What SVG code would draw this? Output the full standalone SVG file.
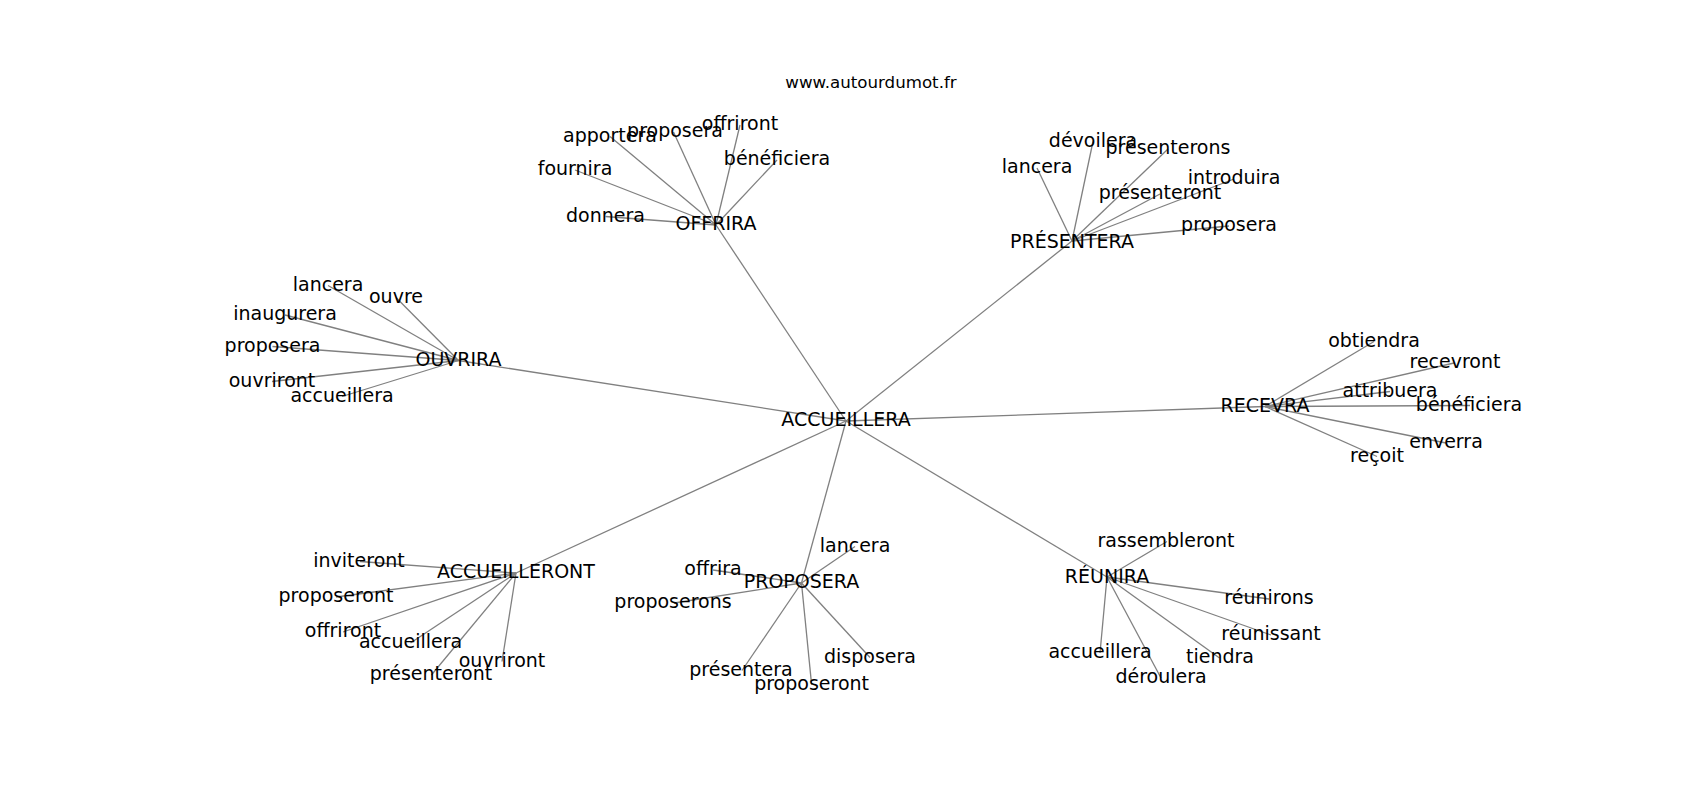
<svg xmlns="http://www.w3.org/2000/svg" width="1700" height="800" viewBox="0 0 1700 800">
<style>
.lbl{font-family:"DejaVu Sans","Liberation Sans",sans-serif;font-size:19px;text-anchor:middle;fill:#000}
.title{font-family:"DejaVu Sans","Liberation Sans",sans-serif;font-size:16.67px;text-anchor:middle;fill:#000}
.edges line{stroke:#808080;stroke-width:1.3;fill:none}
</style>
<rect x="0" y="0" width="1700" height="800" fill="#fff"/>
<text class="title" x="871" y="87.7">www.autourdumot.fr</text>
<g class="edges" id="connectors">
<line x1="846" y1="421" x2="716" y2="225"/>
<line x1="846" y1="421" x2="1072" y2="241"/>
<line x1="846" y1="421" x2="458.5" y2="360.5"/>
<line x1="846" y1="421" x2="1265" y2="406.5"/>
<line x1="846" y1="421" x2="516" y2="573"/>
<line x1="846" y1="421" x2="801.5" y2="583"/>
<line x1="846" y1="421" x2="1107" y2="577"/>
<line x1="716" y1="225" x2="610" y2="136.5"/>
<line x1="716" y1="225" x2="673.5" y2="132"/>
<line x1="716" y1="225" x2="740" y2="125"/>
<line x1="716" y1="225" x2="777" y2="160"/>
<line x1="716" y1="225" x2="575" y2="170"/>
<line x1="716" y1="225" x2="605.5" y2="216.5"/>
<line x1="1072" y1="241" x2="1037" y2="168"/>
<line x1="1072" y1="241" x2="1093" y2="141.5"/>
<line x1="1072" y1="241" x2="1168" y2="149"/>
<line x1="1072" y1="241" x2="1234" y2="179"/>
<line x1="1072" y1="241" x2="1160" y2="194"/>
<line x1="1072" y1="241" x2="1229" y2="226"/>
<line x1="458.5" y1="360.5" x2="328" y2="285.5"/>
<line x1="458.5" y1="360.5" x2="396" y2="297.5"/>
<line x1="458.5" y1="360.5" x2="285" y2="315"/>
<line x1="458.5" y1="360.5" x2="272.5" y2="346.5"/>
<line x1="458.5" y1="360.5" x2="272" y2="381.5"/>
<line x1="458.5" y1="360.5" x2="342" y2="396.5"/>
<line x1="1265" y1="406.5" x2="1374" y2="341.5"/>
<line x1="1265" y1="406.5" x2="1454" y2="363"/>
<line x1="1265" y1="406.5" x2="1390" y2="391.5"/>
<line x1="1265" y1="406.5" x2="1470" y2="405.5"/>
<line x1="1265" y1="406.5" x2="1446" y2="443"/>
<line x1="1265" y1="406.5" x2="1377" y2="456.5"/>
<line x1="516" y1="573" x2="360" y2="561.5"/>
<line x1="516" y1="573" x2="336" y2="597"/>
<line x1="516" y1="573" x2="343" y2="632"/>
<line x1="516" y1="573" x2="410.5" y2="643"/>
<line x1="516" y1="573" x2="431.4" y2="675"/>
<line x1="516" y1="573" x2="502" y2="661.5"/>
<line x1="801.5" y1="583" x2="855" y2="546.5"/>
<line x1="801.5" y1="583" x2="713" y2="570"/>
<line x1="801.5" y1="583" x2="674" y2="603"/>
<line x1="801.5" y1="583" x2="742" y2="670.5"/>
<line x1="801.5" y1="583" x2="811.6" y2="684.6"/>
<line x1="801.5" y1="583" x2="870" y2="657.5"/>
<line x1="1107" y1="577" x2="1167" y2="541.5"/>
<line x1="1107" y1="577" x2="1269" y2="599"/>
<line x1="1107" y1="577" x2="1271" y2="635"/>
<line x1="1107" y1="577" x2="1219.5" y2="658"/>
<line x1="1107" y1="577" x2="1100" y2="653"/>
<line x1="1107" y1="577" x2="1161" y2="678"/>
</g>
<g id="n-accueillera-hub"><text class="lbl" x="846" y="426">ACCUEILLERA</text></g>
<g id="n-offrira"><text class="lbl" x="716" y="230">OFFRIRA</text></g>
<g id="n-presentera"><text class="lbl" x="1072" y="247.7">PRÉSENTERA</text></g>
<g id="n-ouvrira"><text class="lbl" x="458.5" y="365.7">OUVRIRA</text></g>
<g id="n-recevra"><text class="lbl" x="1265" y="411.7">RECEVRA</text></g>
<g id="n-accueilleront"><text class="lbl" x="516" y="578.3">ACCUEILLERONT</text></g>
<g id="n-proposera"><text class="lbl" x="801.5" y="588.3">PROPOSERA</text></g>
<g id="n-reunira"><text class="lbl" x="1107" y="583.3">RÉUNIRA</text></g>

<g id="n-of-apportera"><text class="lbl" x="610" y="141.7">apportera</text></g>
<g id="n-of-proposera"><text class="lbl" x="675" y="137.3">proposera</text></g>
<g id="n-of-offriront"><text class="lbl" x="740" y="130.2">offriront</text></g>
<g id="n-of-beneficiera"><text class="lbl" x="777" y="165.2">bénéficiera</text></g>
<g id="n-of-fournira"><text class="lbl" x="575" y="175.2">fournira</text></g>
<g id="n-of-donnera"><text class="lbl" x="605.5" y="221.7">donnera</text></g>

<g id="n-pr-lancera"><text class="lbl" x="1037" y="173.3">lancera</text></g>
<g id="n-pr-devoilera"><text class="lbl" x="1093" y="146.7">dévoilera</text></g>
<g id="n-pr-presenterons"><text class="lbl" x="1168" y="154.3">présenterons</text></g>
<g id="n-pr-introduira"><text class="lbl" x="1234" y="184.2">introduira</text></g>
<g id="n-pr-presenteront"><text class="lbl" x="1160" y="199">présenteront</text></g>
<g id="n-pr-proposera"><text class="lbl" x="1229" y="231.2">proposera</text></g>

<g id="n-ou-lancera"><text class="lbl" x="328" y="290.7">lancera</text></g>
<g id="n-ou-ouvre"><text class="lbl" x="396" y="302.7">ouvre</text></g>
<g id="n-ou-inaugurera"><text class="lbl" x="285" y="320.2">inaugurera</text></g>
<g id="n-ou-proposera"><text class="lbl" x="272.5" y="351.7">proposera</text></g>
<g id="n-ou-ouvriront"><text class="lbl" x="272" y="386.7">ouvriront</text></g>
<g id="n-ou-accueillera"><text class="lbl" x="342" y="401.7">accueillera</text></g>

<g id="n-re-obtiendra"><text class="lbl" x="1374" y="346.7">obtiendra</text></g>
<g id="n-re-recevront"><text class="lbl" x="1455" y="368.2">recevront</text></g>
<g id="n-re-attribuera"><text class="lbl" x="1390" y="396.7">attribuera</text></g>
<g id="n-re-beneficiera"><text class="lbl" x="1469" y="410.7">bénéficiera</text></g>
<g id="n-re-enverra"><text class="lbl" x="1446" y="448.2">enverra</text></g>
<g id="n-re-recoit"><text class="lbl" x="1377" y="461.7">reçoit</text></g>

<g id="n-ac-inviteront"><text class="lbl" x="359" y="566.7">inviteront</text></g>
<g id="n-ac-proposeront"><text class="lbl" x="336" y="602.2">proposeront</text></g>
<g id="n-ac-offriront"><text class="lbl" x="343" y="637.2">offriront</text></g>
<g id="n-ac-accueillera"><text class="lbl" x="410.5" y="648.2">accueillera</text></g>
<g id="n-ac-presenteront"><text class="lbl" x="431" y="680.2">présenteront</text></g>
<g id="n-ac-ouvriront"><text class="lbl" x="502" y="666.7">ouvriront</text></g>

<g id="n-po-lancera"><text class="lbl" x="855" y="551.7">lancera</text></g>
<g id="n-po-offrira"><text class="lbl" x="713" y="575.2">offrira</text></g>
<g id="n-po-proposerons"><text class="lbl" x="673" y="608.2">proposerons</text></g>
<g id="n-po-presentera"><text class="lbl" x="741" y="675.7">présentera</text></g>
<g id="n-po-proposeront"><text class="lbl" x="811.6" y="689.8">proposeront</text></g>
<g id="n-po-disposera"><text class="lbl" x="870" y="662.7">disposera</text></g>

<g id="n-ru-rassembleront"><text class="lbl" x="1166" y="546.7">rassembleront</text></g>
<g id="n-ru-reunirons"><text class="lbl" x="1269" y="604.2">réunirons</text></g>
<g id="n-ru-reunissant"><text class="lbl" x="1271" y="640.2">réunissant</text></g>
<g id="n-ru-tiendra"><text class="lbl" x="1220" y="663.2">tiendra</text></g>
<g id="n-ru-accueillera"><text class="lbl" x="1100" y="658.2">accueillera</text></g>
<g id="n-ru-deroulera"><text class="lbl" x="1161" y="683.2">déroulera</text></g>
</svg>
